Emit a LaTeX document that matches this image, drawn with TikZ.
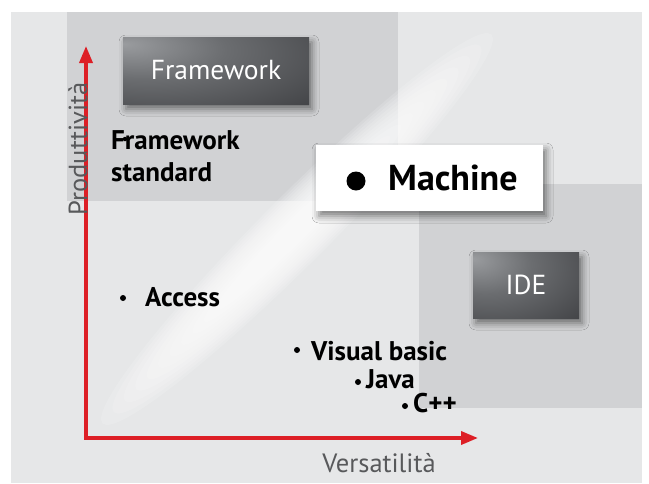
\documentclass[tikz,border=0pt]{standalone}
\usepackage{fontspec}
\setmainfont{PT Sans}
\usetikzlibrary{arrows.meta,shadows.blur}

\definecolor{panelgray}{HTML}{E6E7E8}
\definecolor{zonegray}{HTML}{D1D2D4}
\definecolor{axisred}{HTML}{DD1F26}
\definecolor{labelgray}{HTML}{58595B}
\definecolor{boxlight}{HTML}{9A9C9F}
\definecolor{boxmid}{HTML}{6B6D70}
\definecolor{boxdark}{HTML}{38393C}

% riflesso in alto a sinistra dei riquadri scuri
\pgfdeclareradialshading{boxglow}{\pgfpoint{-25bp}{20bp}}{color(0bp)=(boxlight); color(22bp)=(boxmid); color(60bp)=(boxdark); color(100bp)=(boxdark)}

\begin{document}
\begin{tikzpicture}[x=1pt,y=-1pt,
    zone/.style={fill=zonegray},
    boxshadow/.style={blur shadow={shadow xshift=3pt, shadow yshift=-5pt, shadow blur radius=7pt, shadow opacity=50}},
    darkbox/.style={shading=boxglow, text=white, font=\fontsize{27.5}{32}\selectfont, minimum height=67pt, inner sep=0pt, boxshadow},
    whitebox/.style={fill=white, inner sep=0pt, boxshadow},
    item/.style={anchor=base west, inner sep=0pt, font=\bfseries\fontsize{27}{32.5}\selectfont},
    dot/.style={circle, fill=black, inner sep=0pt, minimum size=6pt},
    axis/.style={axisred, line width=3.5pt, {Triangle[length=17pt,width=13pt]}-{Triangle[length=17pt,width=13pt]}},
    axislabel/.style={text=labelgray, font=\fontsize{26.5}{30}\selectfont, inner sep=0pt}]

    % sfondo e zone
    \useasboundingbox (0,0) rectangle (649,483);
    \fill[panelgray] (11,12) rectangle (642,483);
    \fill[zone] (67,12) rectangle (398,201);
    \fill[zone] (419,184) rectangle (642,408);

    % alone diagonale
    \begin{scope}[shift={(297,229)}, rotate=45]
        \foreach \k in {0,...,13}
            \fill[white, opacity=0.14] (0,0) ellipse ({275-\k*16} and {34-\k*2.3});
    \end{scope}

    % assi
    \coordinate (origin) at (86,438);
    \coordinate (ytop) at (86,46);
    \coordinate (xend) at (478,438);
    \draw[axis] (ytop) -- (origin) -- (xend);
    \node[axislabel, rotate=90] (prod) at (78,149) {Produttività};
    \node[axislabel] (vers) at (379,463) {Versatilità};

    % riquadri
    \node[darkbox, minimum width=186pt] (framework) at (216,70.5) {Framework};
    \node[darkbox, minimum width=106pt, minimum height=66pt] (ide) at (526,285) {IDE};
    \node[whitebox, minimum width=227pt, minimum height=66pt] (machine) at (429.5,178) {};
    \node[dot, minimum size=19pt] (mdot) at (356,181) {};
    \node[item, font=\bfseries\fontsize{36}{40}\selectfont] (mlabel) at (388,190) {Machine};

    % linguaggi
    \node[item, align=left] (fwstd) at (111,181.5) {Framework\\standard};
    \node[dot, minimum size=4.5pt] (fdot) at (125,139) {};
    \node[dot] (adot) at (123,298) {};
    \node[item] (access) at (145,306) {Access};
    \node[dot] (vdot) at (297,350) {};
    \node[item] (vb) at (311,360) {Visual basic};
    \node[dot] (jdot) at (358,382) {};
    \node[item] (java) at (366,388) {Java};
    \node[dot] (cdot) at (405,406) {};
    \node[item] (cpp) at (413,412) {C++};
\end{tikzpicture}
\end{document}
